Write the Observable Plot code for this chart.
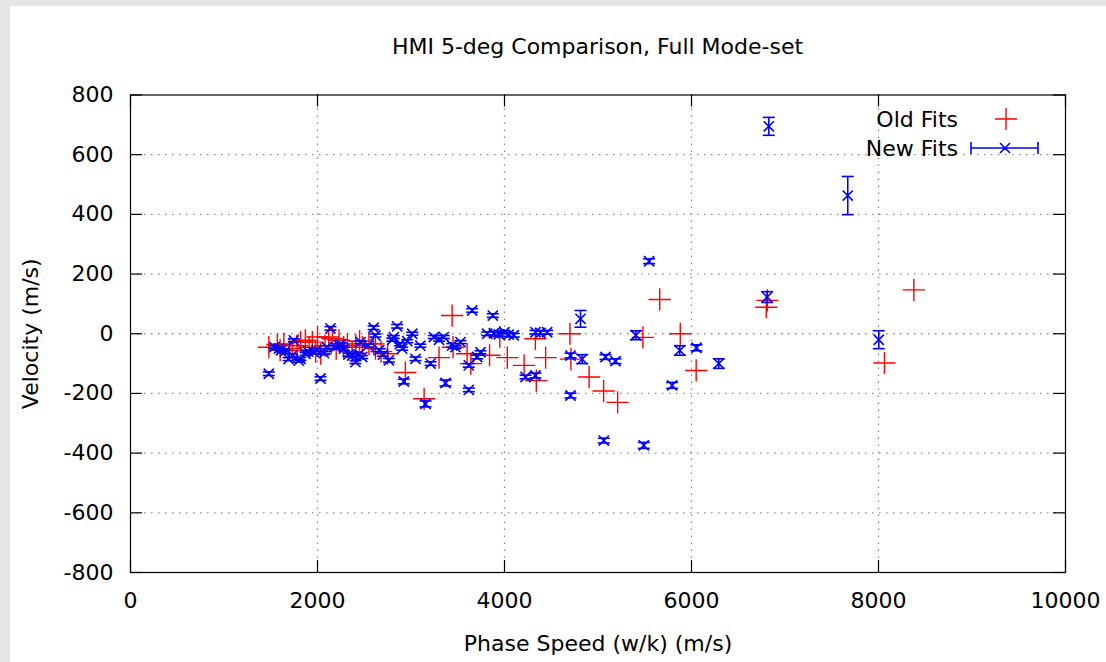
<!DOCTYPE html>
<html><head><meta charset="utf-8">
<script src="https://cdn.jsdelivr.net/npm/d3@7"></script>
<script src="https://cdn.jsdelivr.net/npm/@observablehq/plot@0.6"></script>
<style>
html,body{margin:0;padding:0;background:#e5e5e5;width:1106px;height:662px;overflow:hidden;font-family:"DejaVu Sans",sans-serif;}
#panel{position:absolute;left:10px;top:6px;width:1096px;height:656px;background:#fff;}
#title{position:absolute;left:0;top:35px;width:1195px;text-align:center;font-size:22px;line-height:24px;color:#000;z-index:2;}
</style></head>
<body>
<div id="panel"></div>
<div id="title">HMI 5-deg Comparison, Full Mode-set</div>
<script>
const xTicks = [0, 2000, 4000, 6000, 8000, 10000];
const yTicks = [-800, -600, -400, -200, 0, 200, 400, 600, 800];

// Old Fits (red)
const oldX = [1480,1570,1600,1640,1700,1730,1780,1820,1870,1910,1945,1980,2000,2035,2080,2120,2160,2200,2230,2280,2320,2370,2410,2450,2480,2550,2600,2620,2680,2750,2940,3140,3300,3440,3450,3600,3640,3840,3950,4030,4210,4330,4340,4440,4700,4710,4905,5060,5210,5480,5660,5880,6050,6800,6812,8064,8378];
const oldY = [-45,-36,-55,-34,-50,-56,-40,-28,-22,-45,-28,-60,-11,-67,-40,-11,-17,-50,-22,-45,-34,-60,-39,-25,-45,-34,-34,-50,-60,-67,-130,-218,-80,61,-45,-67,-100,-72,-10,-80,-106,-17,-157,-80,0,-85,-145,-192,-230,-12,115,0,-123,89,112,-98,147];

// New Fits (blue) with error
const newX = [1479,1540,1586,1610,1650,1690,1729,1747,1800,1818,1872,1900,1960,1990,2032,2070,2100,2139,2192,2228,2250,2282,2330,2371,2406,2440,2460,2478,2540,2600,2620,2660,2700,2763,2800,2816,2852,2880,2906,2923,2960,3013,3048,3100,3155,3209,3244,3300,3351,3369,3440,3476,3529,3618,3618,3654,3708,3743,3815,3875,3886,3939,4000,4046,4099,4225,4331,4331,4385,4456,4706,4706,4813,4831,5062,5080,5187,5405,5490,5547,5793,5875,6053,6292,6809,6827,7671,8003];
const newY = [-134,-45,-50,-55,-60,-85,-73,-22,-90,-84,-67,-60,-62,-55,-150,-65,-45,18,-45,-39,-35,-50,-70,-73,-95,-70,-28,-78,-40,20,-6,-55,-70,-89,-20,-11,25,-35,-50,-160,-25,0,-84,-40,-235,-100,-11,-20,-11,-165,-39,-45,-28,-106,-188,78,-78,-62,0,61,2,-2,5,-3,-5,-145,-140,5,3,5,-73,-207,50,-85,-358,-78,-92,-5,-374,243,-173,-56,-47,-100,123,695,463,-20];
const newErr = [6,5,5,5,5,5,5,5,5,5,5,5,5,5,6,5,5,6,5,5,5,5,5,5,5,5,5,5,5,6,5,5,5,6,5,5,6,5,5,8,5,5,6,5,10,6,5,5,5,10,6,5,5,6,6,6,6,5,6,6,6,6,5,6,6,6,8,6,6,6,8,8,28,15,8,8,8,15,10,8,10,16,10,16,18,30,64,30];

const oldFits = oldX.map((x, i) => ({x, y: oldY[i]}));
const newFits = newX.map((x, i) => ({x, y: newY[i], e: newErr[i]}));

const W = 1096, H = 656, mL = 120, mR = 41, mT = 88.5, mB = 90;
const plotW = W - mL - mR, plotH = H - mT - mB;
const tk = 12;
const capSym = {draw(ctx, size) { const w = Math.sqrt(size / Math.PI); ctx.moveTo(-w, 0); ctx.lineTo(w, 0); }};
const gridStyle = {stroke: "#8a8a8a", strokeOpacity: 1, strokeWidth: 1.3, strokeDasharray: "1.5,5.5"};
const fmt = d => String(d);

const chart = Plot.plot({
  width: W, height: H,
  marginLeft: mL, marginRight: mR, marginTop: mT, marginBottom: mB,
  style: {fontFamily: "DejaVu Sans, sans-serif", fontSize: "22px", color: "#000", background: "white", position: "absolute", left: "10px", top: "6px"},
  x: {domain: [0, 10000]},
  y: {domain: [-800, 800]},
  marks: [
    Plot.gridX(xTicks.slice(1, -1), gridStyle),
    Plot.gridY(yTicks.slice(1, -1), gridStyle),
    Plot.tickX(xTicks, {x: d => d, insetTop: plotH - tk, stroke: "#000", strokeWidth: 1.2}),
    Plot.tickX(xTicks, {x: d => d, insetBottom: plotH - tk, stroke: "#000", strokeWidth: 1.2}),
    Plot.tickY(yTicks, {y: d => d, insetRight: plotW - tk, stroke: "#000", strokeWidth: 1.2}),
    Plot.tickY(yTicks, {y: d => d, insetLeft: plotW - tk, stroke: "#000", strokeWidth: 1.2}),
    Plot.axisX(xTicks, {tickSize: 0, tickPadding: 20, fontSize: 22, tickFormat: fmt, label: "Phase Speed (w/k) (m/s)", labelAnchor: "center", labelArrow: "none", labelOffset: 78}),
    Plot.axisY(yTicks, {tickSize: 0, tickPadding: 17, fontSize: 22, tickFormat: fmt, label: "Velocity (m/s)", labelAnchor: "center", labelArrow: "none", labelOffset: 108}),
    Plot.frame({stroke: "#000", strokeWidth: 1.2}),
    Plot.dot(oldFits, {x: "x", y: "y", symbol: "plus", r: 7.2, stroke: "#ff0000", fill: "none", strokeWidth: 1.4}),
    Plot.ruleX(newFits, {x: "x", y1: d => d.y - d.e, y2: d => d.y + d.e, stroke: "#0000ff", strokeWidth: 1.6}),
    Plot.dot(newFits, {x: "x", y: d => d.y + d.e, symbol: capSym, r: 6, stroke: "#0000ff", fill: "none", strokeWidth: 1.6}),
    Plot.dot(newFits, {x: "x", y: d => d.y - d.e, symbol: capSym, r: 6, stroke: "#0000ff", fill: "none", strokeWidth: 1.6}),
    Plot.dot(newFits, {x: "x", y: "y", symbol: "times", r: 4.7, stroke: "#0000ff", fill: "none", strokeWidth: 1.6})
  ]
});
document.body.appendChild(chart);

// legend
const svg = d3.select(chart);
const lg = svg.append("g").attr("font-family", "DejaVu Sans, sans-serif").attr("font-size", 22);
lg.append("text").attr("x", 948).attr("y", 113).attr("text-anchor", "end").attr("dominant-baseline", "central").attr("fill", "#000").text("Old Fits");
lg.append("path").attr("d", "M985,113H1007M996,102V124").attr("stroke", "#ff0000").attr("stroke-width", 1.4).attr("fill", "none");
lg.append("text").attr("x", 948).attr("y", 142).attr("text-anchor", "end").attr("dominant-baseline", "central").attr("fill", "#000").text("New Fits");
lg.append("path").attr("d", "M961,142H1028M961,136V148M1028,136V148M990,137L1000,147M990,147L1000,137").attr("stroke", "#0000ff").attr("stroke-width", 1.6).attr("fill", "none");
</script>
</body></html>
